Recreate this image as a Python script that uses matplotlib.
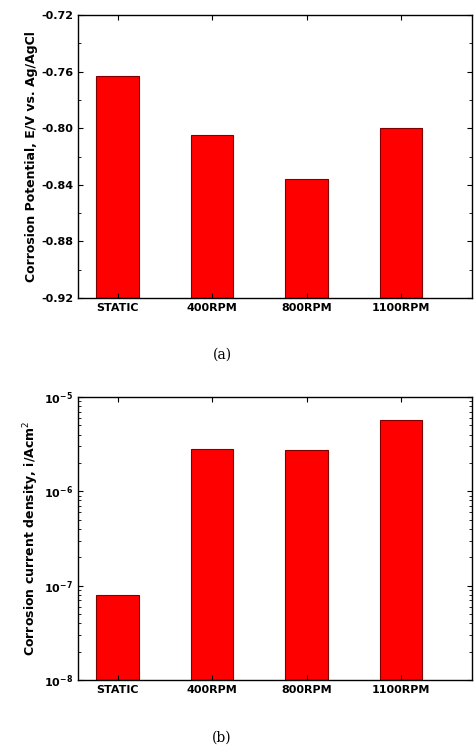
import matplotlib
matplotlib.use("Agg")
import matplotlib.pyplot as plt
from matplotlib.ticker import MultipleLocator, NullFormatter

categories = ["STATIC", "400RPM", "800RPM", "1100RPM"]
potential = [-0.763, -0.805, -0.836, -0.800]
current = [8.0e-8, 2.8e-6, 2.75e-6, 5.7e-6]

W, H = 477, 745
fig = plt.figure(figsize=(W/100, H/100), dpi=100)
ax1 = fig.add_axes([78/W, 1-298/H, 394/W, 283/H])
ax2 = fig.add_axes([78/W, 1-680/H, 394/W, 283/H])
x = list(range(len(categories)))

for ax in (ax1, ax2):
    ax.tick_params(direction='in', which='both', top=True, right=True, labelsize=8)
    ax.set_xticks(x)
    ax.set_xticklabels(categories, fontweight='bold', fontsize=8)
    ax.set_xlim(-0.42, 3.75)
    for s in ax.spines.values():
        s.set_linewidth(1.0)

ax1.bar(x, [p - (-0.92) for p in potential], bottom=-0.92, width=0.45,
        color='#ff0000', edgecolor='#800000', linewidth=0.8)
ax1.yaxis.set_major_locator(MultipleLocator(0.04))
ax1.yaxis.set_minor_locator(MultipleLocator(0.02))
ax1.set_ylim(-0.92, -0.72)
ax1.set_yticks(ax1.get_yticks())
ax1.set_yticklabels([f"{v:.2f}" for v in ax1.get_yticks()], fontweight='bold', fontsize=8)
ax1.set_ylim(-0.92, -0.72)
ax1.set_ylabel("Corrosion Potential, E/V vs. Ag/AgCl", fontweight='bold', fontsize=9, labelpad=2)

ax2.bar(x, [c - 1e-8 for c in current], bottom=1e-8, width=0.45,
        color='#ff0000', edgecolor='#800000', linewidth=0.8)
ax2.set_yscale('log')
ax2.set_ylim(1e-8, 1e-5)
ax2.yaxis.set_minor_formatter(NullFormatter())
for lab in ax2.get_yticklabels():
    lab.set_fontweight('bold')
ax2.set_ylabel("Corrosion current density, i/Acm$^2$", fontweight='bold', fontsize=9, labelpad=2)

fig.text(222/W, 1-355/H, "(a)", ha='center', va='center', fontsize=10, family='serif')
fig.text(222/W, 1-738/H, "(b)", ha='center', va='center', fontsize=10, family='serif')
fig.savefig("out.png", dpi=100)
